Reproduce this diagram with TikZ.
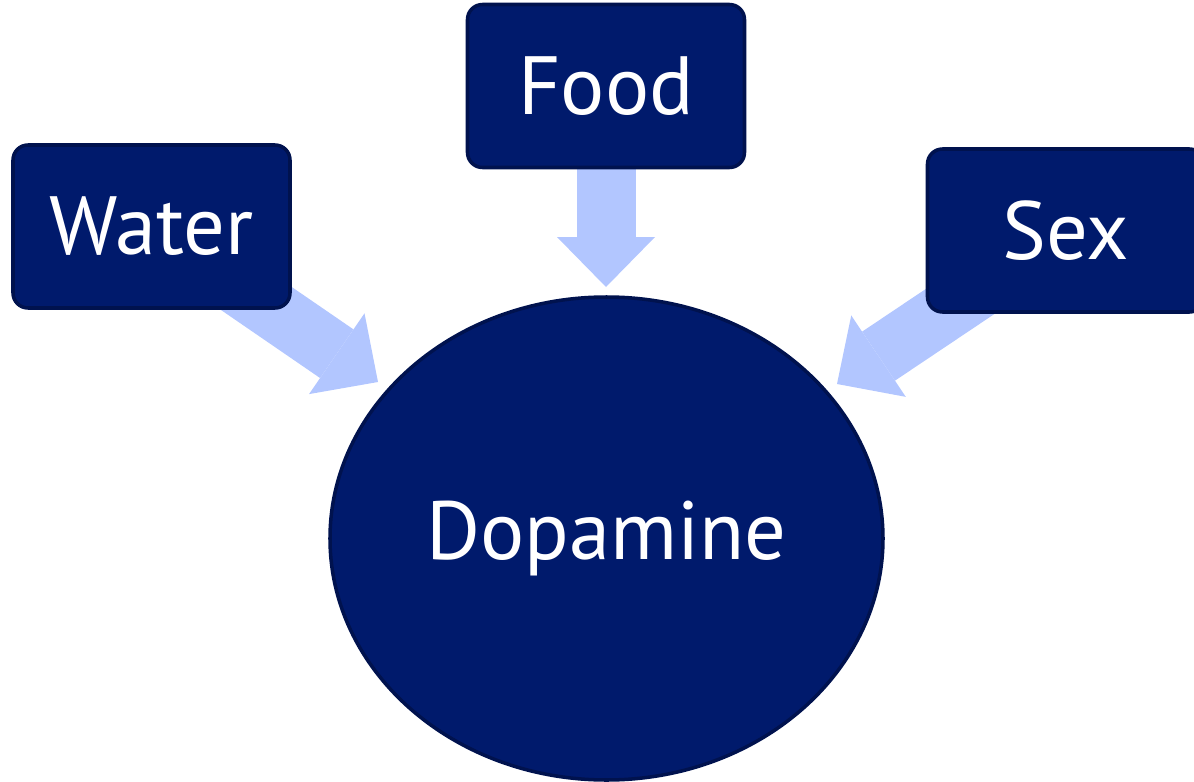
\documentclass[tikz,border=0pt]{standalone}
\usepackage{fontspec}
\setmainfont{PT Sans}
\usetikzlibrary{arrows.meta,backgrounds,shapes.geometric}
\definecolor{navy}{RGB}{0,26,108}
\definecolor{navyline}{RGB}{0,18,78}
\definecolor{paleblue}{RGB}{178,198,255}
\tikzset{
	cue/.style={rectangle, rounded corners=0.15cm, fill=navy, draw=navyline, line width=1pt,
		minimum width=2.77cm, minimum height=1.63cm, text=white, font=\fontsize{23.5}{28}\selectfont},
	hub/.style={ellipse, fill=navy, draw=navyline, line width=1pt, inner sep=0pt,
		minimum width=5.53cm, minimum height=4.83cm, text=white, font=\fontsize{23.5}{28}\selectfont},
	feed/.style={draw=paleblue, line width=0.59cm,
		-{Triangle[width=0.98cm, length=0.50cm, line width=0pt, fill=paleblue]}}
}
\begin{document}
\begin{tikzpicture}
	\useasboundingbox (0,0) rectangle (11.94,-7.82);
	\clip (0,0) rectangle (11.94,-7.82);
	% Узлы
	\node[cue] (water) at (1.515,-2.265) {Water};
	\node[cue] (food) at (6.06,-0.86) {Food};
	\node[cue] (sex) at (10.66,-2.305) {Sex};
	\node[hub] (dopa) at (6.065,-5.385) {Dopamine};
	% Концы стрелок
	\coordinate (wtip) at (3.78,-3.82);
	\coordinate (ftip) at (6.06,-2.87);
	\coordinate (stip) at (8.37,-3.84);
	% Стрелки под узлами
	\begin{scope}[on background layer]
		\draw[feed] (water.center) -- (wtip);
		\draw[feed] (food.center) -- (ftip);
		\draw[feed] (sex.center) -- (stip);
	\end{scope}
\end{tikzpicture}
\end{document}
